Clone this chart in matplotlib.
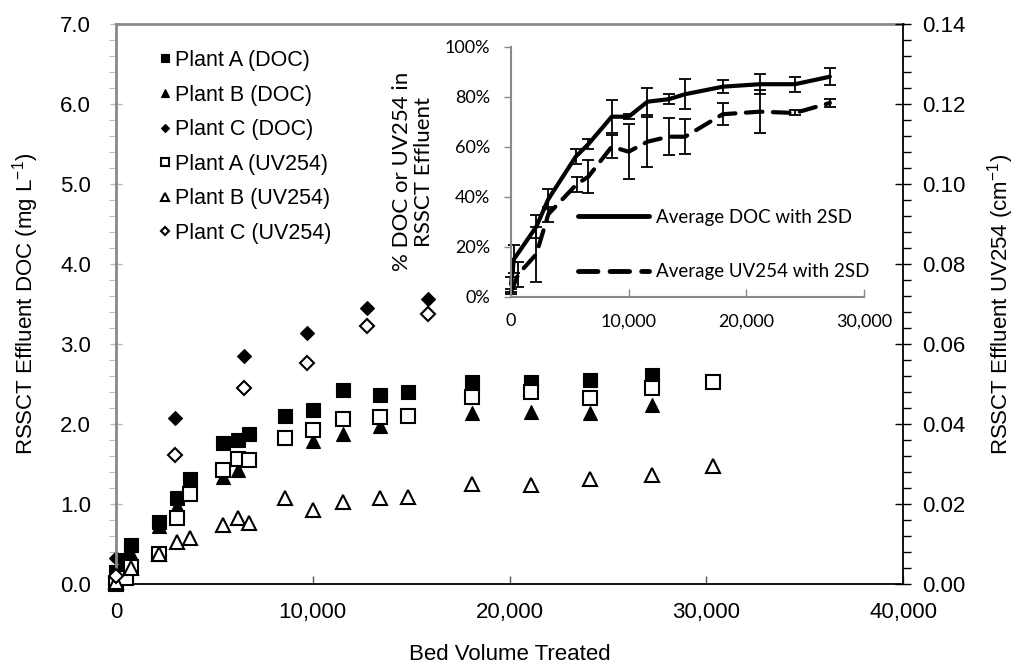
import matplotlib
matplotlib.use("Agg")
import matplotlib.pyplot as plt
from matplotlib.lines import Line2D
from matplotlib.ticker import FuncFormatter, MultipleLocator

plt.rcParams["font.family"] = ["Liberation Sans", "DejaVu Sans"]
plt.rcParams["mathtext.default"] = "regular"

# --- main chart: effluent DOC (mg/L) and UV254 (1/cm) vs bed volumes ---
a_doc_x = [0, 500, 745, 2202, 3117, 3761, 5455, 6218, 6760, 8590, 10030, 11555, 13418, 14824, 18110, 21090, 24090, 27220]
a_doc_y = [0.15, 0.30, 0.49, 0.78, 1.08, 1.31, 1.76, 1.80, 1.88, 2.10, 2.18, 2.43, 2.36, 2.40, 2.53, 2.52, 2.55, 2.61]

b_doc_x = [0, 745, 2202, 3117, 5455, 6218, 10030, 11555, 13418, 18110, 21090, 24090, 27220]
b_doc_y = [0.12, 0.38, 0.72, 0.97, 1.34, 1.43, 1.79, 1.875, 1.97, 2.14, 2.155, 2.14, 2.24]

c_doc_x = [0, 2999, 6505, 9690, 12740, 15875]
c_doc_y = [0.32, 2.08, 2.85, 3.14, 3.45, 3.56]

a_uv_x = [0, 500, 745, 2202, 3117, 3761, 5455, 6218, 6760, 8590, 10030, 11555, 13418, 14824, 18110, 21090, 24090, 27220, 30330]
a_uv_y = [0.0, 0.0014, 0.0042, 0.0076, 0.0166, 0.0224, 0.0286, 0.0312, 0.0310, 0.0366, 0.0384, 0.0412,
          0.0418, 0.0420, 0.0468, 0.0480, 0.0464, 0.0490, 0.0504]

b_uv_x = [0, 745, 2202, 3117, 3761, 5455, 6218, 6760, 8590, 10030, 11555, 13418, 14824, 18110, 21090, 24090, 27220, 30330]
b_uv_y = [0.0006, 0.0040, 0.0076, 0.0106, 0.0114, 0.0148, 0.0166, 0.0152, 0.0214, 0.0186, 0.0206, 0.0216,
          0.0218, 0.0250, 0.0248, 0.0262, 0.0272, 0.0294]

c_uv_x = [0, 2999, 6505, 9690, 12740, 15875]
c_uv_y = [0.002, 0.0322, 0.0490, 0.0552, 0.0645, 0.0676]

# --- inset: average % of influent with 2SD ---
avg_doc_x = [0, 250, 2150, 3170, 5500, 6570, 8560, 10000, 11600, 13400, 14800, 18000, 21150, 24130, 27100]
avg_doc_y = [5, 15, 28, 39, 56, 61, 72, 72, 78, 79, 81, 84, 85, 85, 88]
avg_doc_err = [3, 5.5, 4.5, 4, 3, 2, 6.5, 1, 5.5, 2, 6, 2.7, 4, 3, 3.5]

avg_uv_x = [0, 620, 2150, 3170, 5580, 6570, 8560, 10000, 11600, 13400, 14800, 18000, 21150, 24130, 27100]
avg_uv_y = [2, 9, 17, 33, 45, 48, 60, 58, 62, 64, 64, 73, 74, 73.5, 77.5]
avg_uv_err = [1, 5, 11, 3, 3, 6.5, 4.5, 11, 10, 7.5, 7, 4.3, 8.7, 1, 1.5]

W, H = 1019, 669
fig = plt.figure(figsize=(W / 100, H / 100), dpi=100)
fig.patch.set_facecolor("white")

ax = fig.add_axes([116 / W, 1 - 584 / H, (903 - 116) / W, (584 - 24) / H])
ax2 = ax.twinx()

grey = "#898989"
fs = 16

# primary (DOC) series - filled markers
ax.plot(a_doc_x, a_doc_y, ls="none", marker="s", ms=10, mfc="black", mec="black", mew=0.8,
        clip_on=False, label="Plant A (DOC)")
ax.plot(b_doc_x, b_doc_y, ls="none", marker="^", ms=10.5, mfc="black", mec="black", mew=0.8,
        clip_on=False, label="Plant B (DOC)")
ax.plot(c_doc_x, c_doc_y, ls="none", marker="D", ms=7.5, mfc="black", mec="black", mew=0.8,
        clip_on=False, label="Plant C (DOC)")

# secondary (UV254) series - open markers
ax2.plot(a_uv_x, a_uv_y, ls="none", marker="s", ms=9.5, mfc="white", mec="black", mew=1.5,
         clip_on=False, label="Plant A (UV254)")
ax2.plot(b_uv_x, b_uv_y, ls="none", marker="^", ms=10, mfc="white", mec="black", mew=1.5,
         clip_on=False, label="Plant B (UV254)")
ax2.plot(c_uv_x, c_uv_y, ls="none", marker="D", ms=7, mfc="white", mec="black", mew=1.5,
         clip_on=False, label="Plant C (UV254)")

ax.set_xlim(0, 40000)
ax.set_ylim(0, 7)
ax2.set_ylim(0, 0.14)

ax.xaxis.set_major_locator(MultipleLocator(10000))
ax.xaxis.set_major_formatter(FuncFormatter(lambda v, p: f"{v:,.0f}"))
ax.yaxis.set_major_locator(MultipleLocator(1.0))
ax.yaxis.set_minor_locator(MultipleLocator(0.2))
ax.yaxis.set_major_formatter(FuncFormatter(lambda v, p: f"{v:.1f}"))
ax2.yaxis.set_major_locator(MultipleLocator(0.02))
ax2.yaxis.set_minor_locator(MultipleLocator(0.004))
ax2.yaxis.set_major_formatter(FuncFormatter(lambda v, p: f"{v:.2f}"))

ax.tick_params(axis="x", which="major", direction="in", length=6, width=1, color="#555555",
               labelsize=fs, pad=13)
ax.tick_params(axis="y", which="major", direction="inout", length=8, width=1, color="#bbbbbb",
               labelsize=fs, pad=14)
ax.tick_params(axis="y", which="minor", direction="out", length=5, width=0.8, color="#bbbbbb")
ax2.tick_params(axis="y", which="major", direction="inout", length=12, width=1, color="black",
                labelsize=fs, pad=8)
ax2.tick_params(axis="y", which="minor", direction="out", length=6, width=1, color="black")

for s in ("left", "top"):
    ax.spines[s].set_color(grey)
    ax.spines[s].set_linewidth(2)
ax.spines["bottom"].set_color("black")
ax.spines["bottom"].set_linewidth(1.3)
ax.spines["right"].set_visible(False)
for s in ("left", "top", "bottom"):
    ax2.spines[s].set_visible(False)
ax2.spines["right"].set_color("black")
ax2.spines["right"].set_linewidth(1.3)

ax.set_xlabel("Bed Volume Treated", fontsize=fs, labelpad=15)
ax.set_ylabel("RSSCT Effluent DOC (mg L$^{-1}$)", fontsize=fs, labelpad=14)
ax2.set_ylabel("RSSCT Effluent UV254 (cm$^{-1}$)", fontsize=fs, labelpad=14)

h1, l1 = ax.get_legend_handles_labels()
h2, l2 = ax2.get_legend_handles_labels()
leg = ax2.legend(h1 + h2, l1 + l2, loc="upper left", bbox_to_anchor=(160 / W, 1 - 50 / H),
                 bbox_transform=fig.transFigure, frameon=False, fontsize=15.5, markerscale=0.6,
                 handlelength=0.5, handletextpad=0.2, labelspacing=0.63, borderpad=0, borderaxespad=0)

# --- inset chart ---
ax_in = fig.add_axes([511 / W, 1 - 296.7 / H, (864 - 511) / W, (296.7 - 46.7) / H])
ax_in.set_facecolor("none")
inset_font = ["Lato", "DejaVu Sans"]
ifs = 13

ax_in.errorbar(avg_doc_x, avg_doc_y, yerr=avg_doc_err, fmt="none", ecolor="black",
               elinewidth=1.3, capsize=4, capthick=1.3, clip_on=False)
ax_in.errorbar(avg_uv_x, avg_uv_y, yerr=avg_uv_err, fmt="none", ecolor="black",
               elinewidth=1.3, capsize=4, capthick=1.3, clip_on=False)
ax_in.plot(avg_doc_x, avg_doc_y, color="black", lw=3, solid_capstyle="round", clip_on=False)
ax_in.plot(avg_uv_x, avg_uv_y, color="black", lw=3, ls=(0, (4, 2.5)), dash_capstyle="round",
           clip_on=False)

ax_in.set_xlim(0, 30000)
ax_in.set_ylim(0, 100)
ax_in.xaxis.set_major_locator(MultipleLocator(10000))
ax_in.xaxis.set_major_formatter(FuncFormatter(lambda v, p: f"{v:,.0f}"))
ax_in.yaxis.set_major_locator(MultipleLocator(20))
ax_in.yaxis.set_major_formatter(FuncFormatter(lambda v, p: f"{v:.0f}%"))
ax_in.tick_params(axis="x", direction="in", length=6, width=1, color=grey, labelsize=ifs, pad=12)
ax_in.tick_params(axis="y", direction="out", length=5, width=1, color=grey, labelsize=ifs, pad=10)
for lab in ax_in.get_xticklabels() + ax_in.get_yticklabels():
    lab.set_family(inset_font)
for s in ("top", "right"):
    ax_in.spines[s].set_visible(False)
for s in ("left", "bottom"):
    ax_in.spines[s].set_color(grey)
    ax_in.spines[s].set_linewidth(1.5)
ax_in.set_ylabel("% DOC or UV254 in\nRSSCT Effluent", fontsize=16, family=inset_font,
                 labelpad=8, linespacing=1.1)

in_handles = [Line2D([], [], color="black", lw=3.5, solid_capstyle="round"),
              Line2D([], [], color="black", lw=3.5, ls=(0, (4, 2.5)), dash_capstyle="round")]
ax_in.legend(in_handles, ["Average DOC with 2SD", "Average UV254 with 2SD"], loc="upper left",
             bbox_to_anchor=(578 / W, 1 - 209 / H), bbox_transform=fig.transFigure, frameon=False,
             prop={"family": inset_font, "size": 13.5}, handlelength=3.8, handletextpad=0.35,
             labelspacing=2.0, borderpad=0, borderaxespad=0)

fig.savefig("out.png", dpi=100)
